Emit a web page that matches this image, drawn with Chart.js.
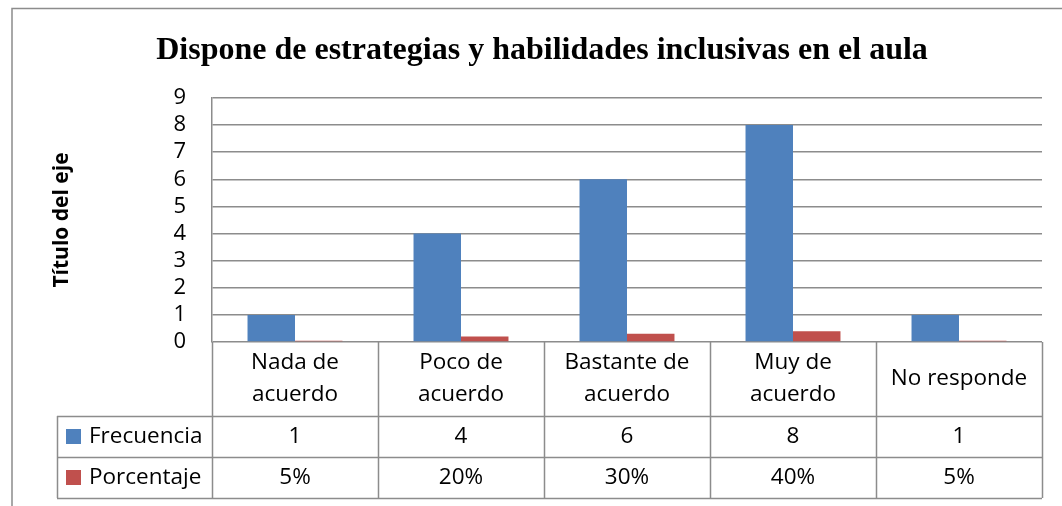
<!DOCTYPE html>
<html>
<head>
<meta charset="utf-8">
<script src="https://cdn.jsdelivr.net/npm/chart.js@4/dist/chart.umd.min.js"></script>
<style>
  html, body { margin: 0; padding: 0; background: #fff; }
  #wrap { width: 1062px; height: 506px; position: relative; }
</style>
</head>
<body>
<div id="wrap"><canvas id="grafico"></canvas></div>
<script>
// Datos
const titulo = 'Dispone de estrategias y habilidades inclusivas en el aula';
const tituloEje = 'Título del eje';
const categorias = [['Nada de', 'acuerdo'], ['Poco de', 'acuerdo'], ['Bastante de', 'acuerdo'], ['Muy de', 'acuerdo'], ['No responde']];
const frecuencia = [1, 4, 6, 8, 1];
const porcentaje = [0.05, 0.20, 0.30, 0.40, 0.05];
const ejeMin = 0;
const ejeMax = 9;

const AZUL = '#4F81BD';
const ROJO = '#C0504D';
const GRIS = '#8c8c8c';
const FUENTE = '"Open Sans", sans-serif';

// Marco, titulo y tabla de datos debajo del grafico
const tablaPlugin = {
    id: 'tabla',
    beforeDraw(chart) {
        const ctx = chart.ctx;
        ctx.save();
        ctx.strokeStyle = GRIS;
        ctx.lineWidth = 1.5;
        ctx.beginPath();
        ctx.moveTo(12, 506);
        ctx.lineTo(12, 8.5);
        ctx.lineTo(1062, 8.5);
        ctx.stroke();
        ctx.fillStyle = '#000';
        ctx.font = 'bold 32px "Liberation Serif", serif';
        ctx.textAlign = 'center';
        ctx.textBaseline = 'alphabetic';
        ctx.fillText(titulo, 542, 59);
        ctx.restore();
    },
    afterDraw(chart) {
        const ctx = chart.ctx;
        const x = chart.scales.x;
        const area = chart.chartArea;
        const n = chart.data.labels.length;
        const w = (area.right - area.left) / n;
        const filaCat = area.bottom + 74;
        const filaF = filaCat + 41;
        const filaP = filaF + 41;
        const izqLeyenda = 57;

        ctx.save();
        ctx.strokeStyle = GRIS;
        ctx.lineWidth = 1.5;
        ctx.beginPath();
        // lineas verticales
        for (let i = 0; i <= n; i++) {
            const xx = Math.round(area.left + i * w) + 0.5;
            ctx.moveTo(xx, area.bottom);
            ctx.lineTo(xx, filaP);
        }
        ctx.moveTo(izqLeyenda + 0.5, filaCat);
        ctx.lineTo(izqLeyenda + 0.5, filaP);
        // lineas horizontales
        [filaCat, filaF, filaP].forEach(y => {
            ctx.moveTo(izqLeyenda, Math.round(y) + 0.5);
            ctx.lineTo(area.right, Math.round(y) + 0.5);
        });
        ctx.stroke();

        ctx.fillStyle = '#000';
        ctx.font = '22.5px ' + FUENTE;
        ctx.textAlign = 'center';
        ctx.textBaseline = 'middle';
        chart.data.labels.forEach((lab, i) => {
            const cx = x.getPixelForValue(i);
            const lineas = Array.isArray(lab) ? lab : [lab];
            const mid = (area.bottom + filaCat) / 2;
            lineas.forEach((t, k) => {
                ctx.fillText(t, cx, mid + (k - (lineas.length - 1) / 2) * 32);
            });
        });

        const filas = [
            { ds: chart.data.datasets[0], top: filaCat, fmt: v => String(v) },
            { ds: chart.data.datasets[1], top: filaF, fmt: v => Math.round(v * 100) + '%' }
        ];
        filas.forEach(f => {
            const cy = f.top + 20.5;
            f.ds.data.forEach((v, i) => {
                ctx.textAlign = 'center';
                ctx.fillText(f.fmt(v), x.getPixelForValue(i), cy);
            });
            ctx.fillStyle = f.ds.backgroundColor;
            ctx.fillRect(66, cy - 7.5, 15, 15);
            ctx.fillStyle = '#000';
            ctx.textAlign = 'left';
            ctx.fillText(f.ds.label, 89, cy);
        });
        ctx.restore();
    }
};

new Chart(document.getElementById('grafico'), {
    type: 'bar',
    data: {
        labels: categorias,
        datasets: [
            { label: 'Frecuencia', data: frecuencia, backgroundColor: AZUL },
            { label: 'Porcentaje', data: porcentaje, backgroundColor: ROJO }
        ]
    },
    options: {
        responsive: true,
        maintainAspectRatio: false,
        animation: false,
        layout: { padding: { left: 12, right: 20, top: 98, bottom: 164 } },
        datasets: { bar: { barPercentage: 1, categoryPercentage: 0.572 } },
        scales: {
            x: { display: false },
            y: {
                min: ejeMin,
                max: ejeMax,
                afterFit: s => { s.width = 200; },
                border: { color: GRIS, width: 1.5 },
                grid: { color: GRIS, lineWidth: 1.5, drawTicks: false },
                ticks: {
                    stepSize: 1,
                    autoSkip: false,
                    padding: 26,
                    color: '#000',
                    font: { family: FUENTE, size: 22 }
                },
                title: {
                    display: true,
                    text: tituloEje,
                    color: '#000',
                    padding: { top: 37 },
                    font: { family: FUENTE, size: 21, weight: 'bold' }
                }
            }
        },
        plugins: {
            legend: { display: false },
            tooltip: { enabled: false }
        }
    },
    plugins: [tablaPlugin]
});
</script>
</body>
</html>
